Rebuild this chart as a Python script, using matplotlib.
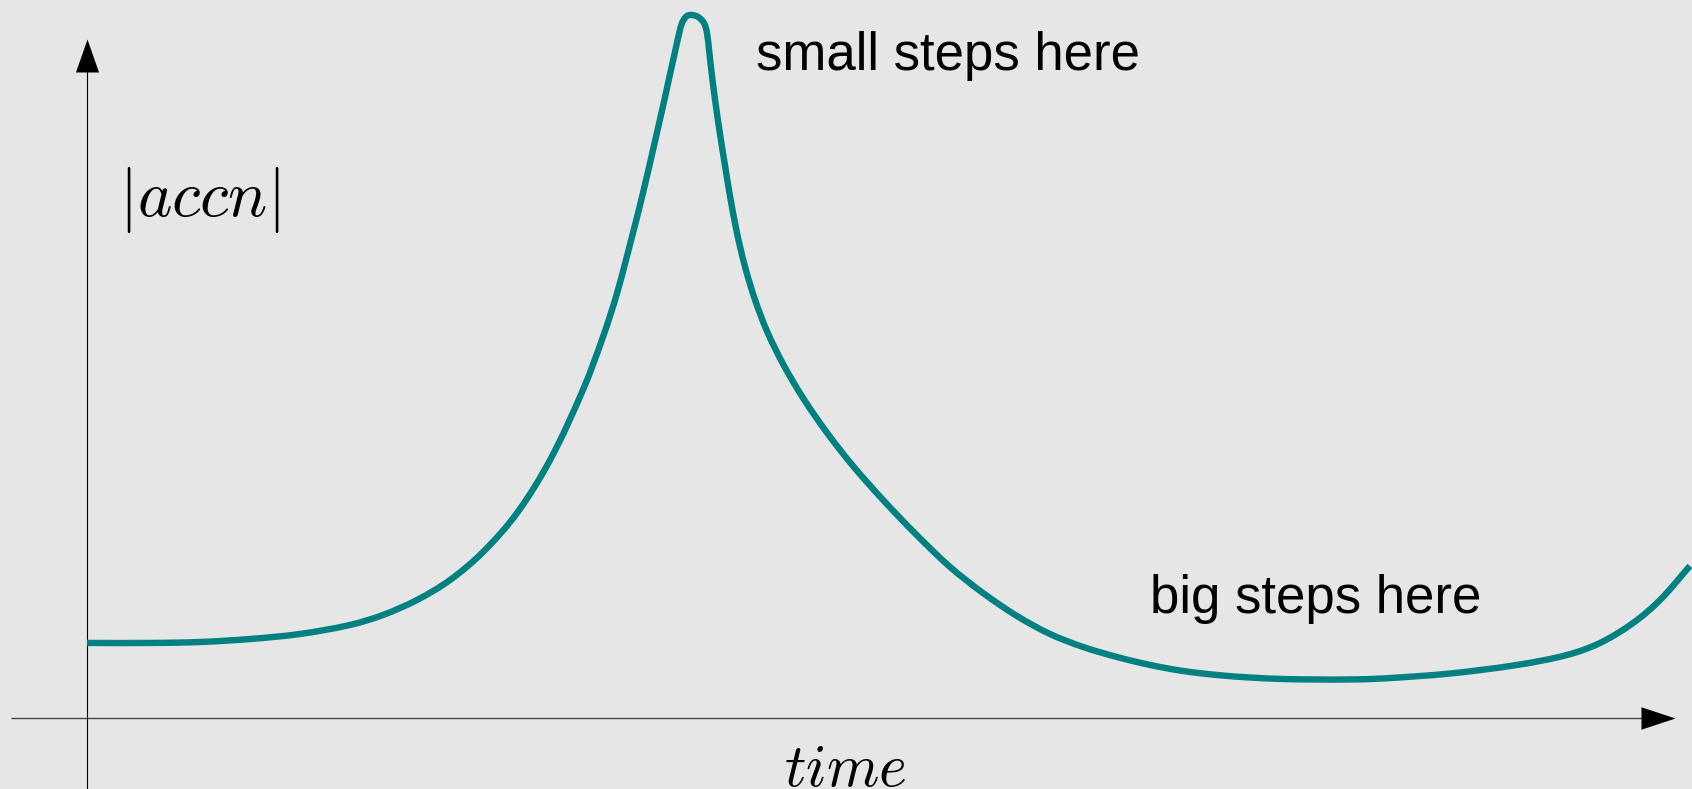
import matplotlib
matplotlib.use("Agg")
import matplotlib.pyplot as plt
import numpy as np
from matplotlib.path import Path
from matplotlib.patches import PathPatch

# ---- data (schematic units: time 0..100 along the arrowed axis, accn 0..100) ----
time = [0.0, 3.97, 7.12, 10.26, 13.41, 16.56, 18.64, 20.78, 22.86, 24.94, 27.08,
        29.16, 31.23, 32.49, 33.38, 34.38, 35.01, 35.64, 36.40, 37.15, 37.47,
        37.78, 38.10, 38.48, 38.85,
        39.04, 39.29, 39.55, 39.86, 40.18, 40.49, 40.93, 41.44, 42.07, 42.82,
        43.83, 45.09, 46.60, 48.24, 50.13, 52.27, 54.35, 56.42, 58.56, 60.64,
        62.72, 64.86, 66.94, 69.02, 71.16, 73.24, 75.31, 77.46, 79.53, 81.61,
        85.83, 90.05, 93.20, 95.28, 97.36, 99.06, 100.94]
accn = [11.05, 11.05, 11.19, 11.63, 12.37, 13.70, 15.17, 17.38, 20.32, 24.45, 30.19,
        38.00, 48.31, 56.11, 62.59, 71.43, 77.32, 83.65, 91.46, 99.41, 102.36,
        103.39, 103.53, 103.24, 102.36,
        100.88, 95.88, 91.02, 86.01, 81.30, 76.88, 71.43, 66.42, 61.56, 56.97,
        52.14, 47.13, 42.00, 37.11, 32.11, 26.89, 22.24, 18.41, 15.02, 12.37,
        10.46, 8.98, 7.81, 6.92, 6.33, 5.96, 5.74, 5.67, 5.67, 5.82,
        6.55, 7.81, 9.28, 11.05, 13.99, 17.38, 22.39]

y_label = r"$|accn|$"
x_label = r"$time$"
note_small = "small steps here"
note_big = "big steps here"

plt.rcParams["mathtext.fontset"] = "cm"

fig = plt.figure(figsize=(16.92, 7.89), dpi=100)
bg = "#e6e6e6"
fig.patch.set_facecolor(bg)
ax = fig.add_axes([0, 0, 1, 1])
ax.set_facecolor(bg)
ax.set_xlim(-5.48, 101.07)
ax.set_ylim(-10.46, 105.74)
ax.axis("off")

# axes lines
ax.plot([0, 0], [-10.46, 96.0], color="black", lw=0.8, solid_capstyle="butt", zorder=2)
ax.plot([-4.79, 98.5], [0, 0], color="#444444", lw=1.0, solid_capstyle="butt", zorder=2)

# arrow heads (custom triangle markers, tip at the marker point)
up_head = [(0, 0), (-0.35, -1), (0.35, -1), (0, 0)]
right_head = [(0, 0), (-1, 0.33), (-1, -0.33), (0, 0)]
ax.plot([0], [100.0], marker=up_head, ms=47.5, color="black", mew=0, zorder=3)
ax.plot([100.0], [0], marker=right_head, ms=49, color="black", mew=0, zorder=3)

# curve: smooth cubic Bezier path through the read points (chord-length Hermite
# tangents computed in display space, then mapped back through the data transform)
pts = ax.transData.transform(np.column_stack([time, accn]))
n = len(pts)
seg = np.linalg.norm(np.diff(pts, axis=0), axis=1)
tang = np.zeros_like(pts)
for i in range(n):
    if i == 0:
        tang[i] = (pts[1] - pts[0]) / seg[0]
    elif i == n - 1:
        tang[i] = (pts[-1] - pts[-2]) / seg[-1]
    else:
        tang[i] = (pts[i + 1] - pts[i - 1]) / (seg[i - 1] + seg[i])
verts = [pts[0]]
codes = [Path.MOVETO]
for i in range(n - 1):
    d = seg[i] / 3.0
    verts += [pts[i] + tang[i] * d, pts[i + 1] - tang[i + 1] * d, pts[i + 1]]
    codes += [Path.CURVE4] * 3
verts = ax.transData.inverted().transform(np.array(verts))
curve = PathPatch(Path(verts, codes), facecolor="none", edgecolor="#008080",
                  lw=4.6, joinstyle="round", capstyle="butt", zorder=4,
                  transform=ax.transData)
ax.add_patch(curve)

# texts
ax.text(2.0, 73.9, y_label, fontsize=47, ha="left", va="baseline", color="black")
ax.text(47.73, -10.0, x_label, fontsize=43, ha="center", va="baseline", color="black")
ax.text(42.15, 95.4, note_small, fontsize=38, family="Liberation Sans",
        ha="left", va="baseline", color="black")
ax.text(66.94, 15.46, note_big, fontsize=38, family="Liberation Sans",
        ha="left", va="baseline", color="black")

fig.savefig("out.png", dpi=100, facecolor=bg)
